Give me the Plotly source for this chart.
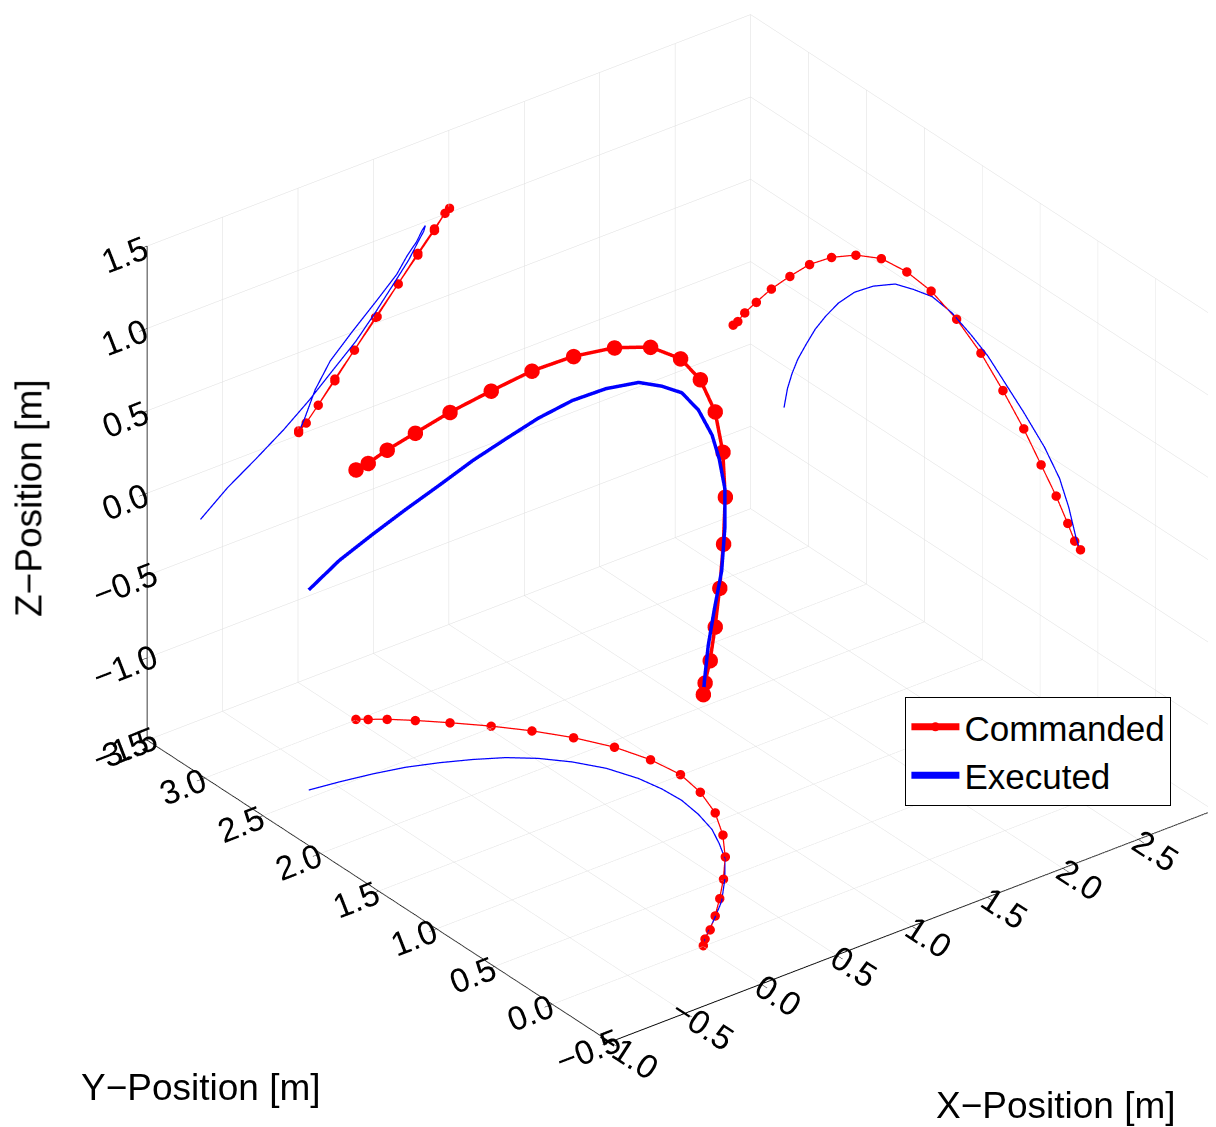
import numpy as np
import plotly.graph_objects as go

# ---- data (metres) ----
cmd_x = [0.00, 0.05, 0.13, 0.24, 0.37, 0.52, 0.66, 0.79, 0.90, 0.97, 1.00,
         0.97, 0.90, 0.79, 0.66, 0.51, 0.37, 0.24, 0.13, 0.05, 0.00]
cmd_y = [3.00, 2.96, 2.90, 2.80, 2.67, 2.51, 2.34, 2.15, 1.94, 1.72, 1.50,
         1.29, 1.07, 0.86, 0.67, 0.49, 0.34, 0.21, 0.11, 0.05, 0.00]
cmd_z = [0.02, 0.06, 0.14, 0.25, 0.39, 0.54, 0.69, 0.82, 0.93, 1.01, 1.03,
         1.01, 0.94, 0.83, 0.69, 0.54, 0.39, 0.26, 0.14, 0.06, 0.03]

exe_x = [-0.65, -0.47, -0.28, -0.10, 0.07, 0.23, 0.38, 0.51, 0.63, 0.73, 0.80,
         0.83, 0.84, 0.82, 0.78, 0.72, 0.65, 0.52, 0.36, 0.21, 0.11, 0.04, 0.00]
exe_y = [2.56, 2.53, 2.49, 2.44, 2.37, 2.29, 2.20, 2.09, 1.95, 1.79, 1.60,
         1.44, 1.28, 1.11, 0.94, 0.80, 0.66, 0.49, 0.31, 0.18, 0.10, 0.04, 0.00]
exe_z = [-0.28, -0.15, -0.04, 0.07, 0.19, 0.32, 0.44, 0.57, 0.70, 0.81, 0.91,
         0.95, 0.98, 0.96, 0.90, 0.84, 0.75, 0.64, 0.51, 0.38, 0.24, 0.09, 0.02]

x_range = [-1.0, 3.0]
y_range = [-0.5, 3.5]
z_range = [-1.5, 1.5]

# projection planes (walls), nudged just inside the box
floor_z = -1.495
wall_y = 3.495
wall_x = 2.5

RED = "#ff0000"
BLUE = "#0000ff"
FONT = "Liberation Sans, Arial, sans-serif"

fig = go.Figure()

n_c = len(cmd_x)
n_e = len(exe_x)

proj = [
    (cmd_x, cmd_y, [floor_z] * n_c, exe_x, exe_y, [floor_z] * n_e),
    (cmd_x, [wall_y] * n_c, cmd_z, exe_x, [wall_y] * n_e, exe_z),
    ([wall_x] * n_c, cmd_y, cmd_z, [wall_x] * n_e, exe_y, exe_z),
]
for cx, cy, cz, ex, ey, ez in proj:
    fig.add_trace(go.Scatter3d(x=ex, y=ey, z=ez, mode="lines",
                               line=dict(color=BLUE, width=2.5),
                               showlegend=False, hoverinfo="skip"))
    fig.add_trace(go.Scatter3d(x=cx, y=cy, z=cz, mode="lines+markers",
                               line=dict(color=RED, width=2.5),
                               marker=dict(color=RED, size=5.5, line=dict(width=0)),
                               showlegend=False, hoverinfo="skip"))

fig.add_trace(go.Scatter3d(x=exe_x, y=exe_y, z=exe_z, mode="lines",
                           name="Executed",
                           line=dict(color=BLUE, width=7)))
fig.add_trace(go.Scatter3d(x=cmd_x, y=cmd_y, z=cmd_z, mode="lines+markers",
                           name="Commanded",
                           line=dict(color=RED, width=7),
                           marker=dict(color=RED, size=9, line=dict(width=0))))

# camera: MATLAB-like view az=-37.5, el=30, orthographic
az = np.radians(-37.5)
el = np.radians(30.0)
d = np.array([np.cos(el) * np.sin(az), -np.cos(el) * np.cos(az), np.sin(el)])
R = np.array([np.cos(az), np.sin(az), 0.0])
U = np.array([-np.sin(el) * np.sin(az), np.sin(el) * np.cos(az), np.cos(el)])
r = 1.475
center = -0.1143 * R - 0.0767 * U
eye = center + r * d
L = 1.35

axis_common = dict(
    showbackground=False,
    showgrid=True, gridcolor="#dddddd", gridwidth=1,
    showline=True, linecolor="black", linewidth=2,
    zeroline=False, showspikes=False,
    ticks="outside", tickcolor="black", ticklen=10,
    dtick=0.5, tickformat=".1f",
    tickfont=dict(family=FONT, size=20, color="black"),
    title=dict(text=""),
)

fig.update_layout(
    width=1216, height=1127,
    margin=dict(l=0, r=0, t=0, b=0),
    paper_bgcolor="white",
    scene=dict(
        domain=dict(x=[0, 1], y=[0, 1]),
        xaxis=dict(range=x_range, **axis_common),
        yaxis=dict(range=y_range, **axis_common),
        zaxis=dict(range=z_range, **axis_common),
        aspectmode="manual",
        aspectratio=dict(x=L, y=L, z=0.75 * L),
        camera=dict(
            projection=dict(type="orthographic"),
            eye=dict(x=eye[0], y=eye[1], z=eye[2]),
            center=dict(x=center[0], y=center[1], z=center[2]),
            up=dict(x=0, y=0, z=1),
        ),
    ),
    legend=dict(
        x=0.738, y=0.389, xanchor="left", yanchor="top",
        bgcolor="white", bordercolor="black", borderwidth=1,
        font=dict(family=FONT, size=35, color="black"),
        itemwidth=48,
        traceorder="reversed",
    ),
    annotations=[
        dict(text="Z\u2212Position [m]", x=0.017, y=0.565, xref="paper", yref="paper",
             xanchor="center", yanchor="middle",
             showarrow=False, textangle=-90, font=dict(family=FONT, size=37, color="black")),
        dict(text="Y\u2212Position [m]", x=0.159, y=0.042, xref="paper", yref="paper",
             xanchor="center", yanchor="middle",
             showarrow=False, font=dict(family=FONT, size=37, color="black")),
        dict(text="X\u2212Position [m]", x=0.862, y=0.026, xref="paper", yref="paper",
             xanchor="center", yanchor="middle",
             showarrow=False, font=dict(family=FONT, size=37, color="black")),
    ],
)

fig.write_html("out.html")
